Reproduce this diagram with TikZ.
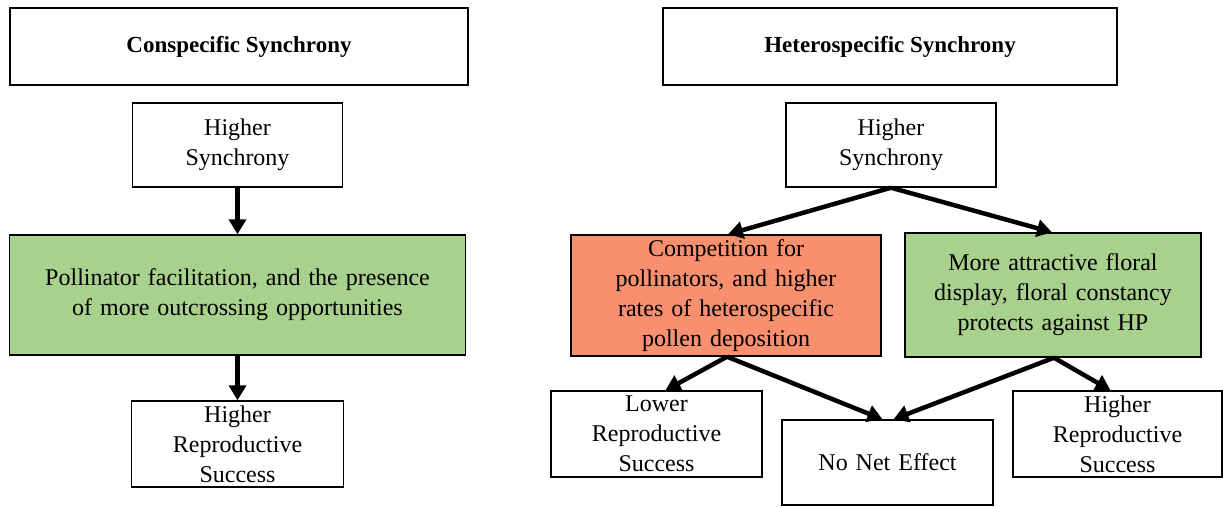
\documentclass[tikz,border=0pt]{standalone}
\usepackage{fontspec}
\setmainfont{Liberation Serif}
\usetikzlibrary{arrows.meta,calc}
\definecolor{boxgreen}{HTML}{A9D18E}
\definecolor{boxred}{HTML}{F8906F}
\tikzset{
  box/.style={draw, line width=1.4pt, align=center, inner sep=0pt, font=\fontsize{24}{30}\selectfont},
  titlebox/.style={box, line width=1.8pt, font=\fontsize{23}{28}\selectfont\bfseries},
  arr/.style={line width=4.5pt, -{Triangle[length=15pt,width=17pt]}, shorten >=0pt}
}
\begin{document}
\begin{tikzpicture}[x=1pt,y=-1pt]
\useasboundingbox (0,0) rectangle (1223,506);
% left column
\node[titlebox, minimum width=458, minimum height=77] (t1) at (239,46.5) {Conspecific Synchrony};
\node[box, minimum width=210, minimum height=84, text width=204] (hs1) at (237.5,145) {Higher\\Synchrony};
\node[box, fill=boxgreen, minimum width=456, minimum height=120, text width=450] (pf) at (237.5,295) {Pollinator facilitation, and the presence\\of more outcrossing opportunities};
\node[box, minimum width=212, minimum height=86, text width=206] (hr1) at (237.5,444) {Higher\\Reproductive\\Success};
% right column
\node[titlebox, minimum width=454, minimum height=77] (t2) at (890,46.5) {Heterospecific Synchrony};
\node[box, minimum width=210, minimum height=84, text width=204] (hs2) at (891,145) {Higher\\Synchrony};
\node[box, fill=boxred, minimum width=310, minimum height=121, text width=304] (cp) at (726,295.5) {Competition for\\pollinators, and higher\\rates of heterospecific\\pollen deposition};
\node[box, fill=boxgreen, minimum width=296, minimum height=124, text width=290] (ma) at (1053,295) {More attractive floral\\display, floral constancy\\protects against HP};
\node[box, minimum width=211, minimum height=86, text width=205] (lr) at (656.5,434) {Lower\\Reproductive\\Success};
\node[box, minimum width=211, minimum height=85, text width=205] (ne) at (887.5,462.5) {No Net Effect};
\node[box, minimum width=209, minimum height=86, text width=203] (hr2) at (1117.5,434) {Higher\\Reproductive\\Success};
% arrows
\draw[arr] (hs1.south) -- (pf.north);
\draw[arr] (pf.south) -- (hr1.north);
\draw[arr] (hs2.south) -- ([xshift=2]cp.north);
\draw[arr] (hs2.south) -- ([xshift=-1]ma.north);
\draw[arr] ([xshift=1]cp.south) -- ([xshift=9]lr.north);
\draw[arr] ([xshift=1]cp.south) -- ([xshift=-5]ne.north);
\draw[arr] ([xshift=1]ma.south) -- ([xshift=6]ne.north);
\draw[arr] ([xshift=1]ma.south) -- ([xshift=-7]hr2.north);
\end{tikzpicture}
\end{document}
